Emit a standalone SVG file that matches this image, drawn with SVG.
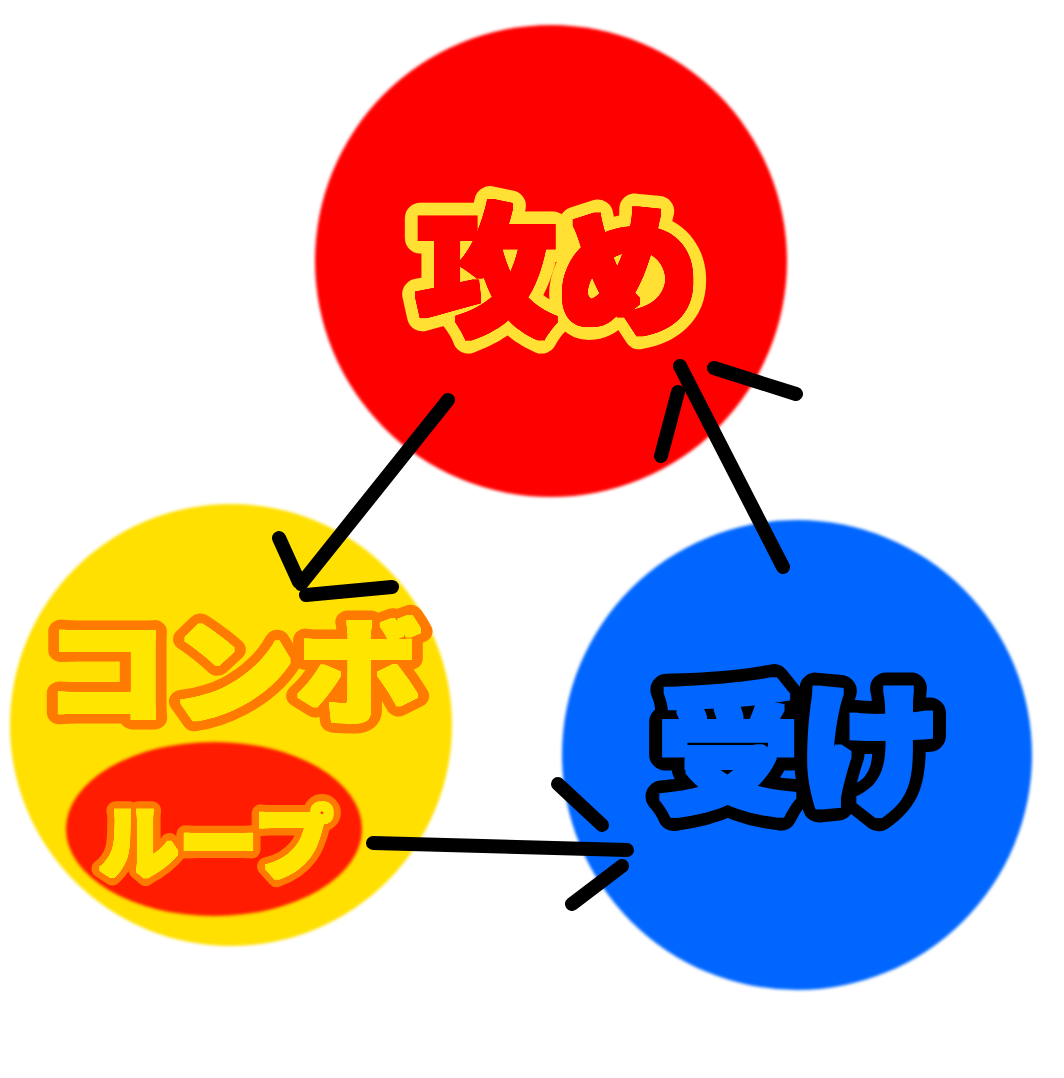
<svg xmlns="http://www.w3.org/2000/svg" width="1064" height="1078" viewBox="0 0 1064 1078">
<defs>
<filter id="soft" x="-5%" y="-5%" width="110%" height="110%"><feGaussianBlur stdDeviation="1.5"/></filter>
<filter id="fatRed" x="-10%" y="-20%" width="120%" height="140%" color-interpolation-filters="sRGB">
<feColorMatrix in="SourceGraphic" type="matrix" values="0 0 0 0 1  0 0 0 0 0  0 0 0 0 0  0 -2 0 1 0" result="m"/>
<feMorphology in="m" operator="dilate" radius="2.5" result="fat"/>
<feMerge><feMergeNode in="SourceGraphic"/><feMergeNode in="fat"/></feMerge>
</filter>
<filter id="fatBlue" x="-10%" y="-20%" width="120%" height="140%" color-interpolation-filters="sRGB">
<feColorMatrix in="SourceGraphic" type="matrix" values="0 0 0 0 0  0 0 0 0 0.4  0 0 0 0 1  0 0 1 0 0" result="m"/>
<feMorphology in="m" operator="dilate" radius="2.5" result="fat"/>
<feMerge><feMergeNode in="SourceGraphic"/><feMergeNode in="fat"/></feMerge>
</filter>
<filter id="fatYellow" x="-10%" y="-20%" width="120%" height="140%" color-interpolation-filters="sRGB">
<feColorMatrix in="SourceGraphic" type="matrix" values="0 0 0 0 1  0 0 0 0 0.9  0 0 0 0 0  0 5 0 0 -3.5" result="m"/>
<feMorphology in="m" operator="dilate" radius="2" result="fat"/>
<feMerge><feMergeNode in="SourceGraphic"/><feMergeNode in="fat"/></feMerge>
</filter>
<filter id="fatYellowS" x="-10%" y="-20%" width="120%" height="140%" color-interpolation-filters="sRGB">
<feColorMatrix in="SourceGraphic" type="matrix" values="0 0 0 0 1  0 0 0 0 0.9  0 0 0 0 0  0 5 0 0 -3.5" result="m"/>
<feMorphology in="m" operator="dilate" radius="1.5" result="fat"/>
<feMerge><feMergeNode in="SourceGraphic"/><feMergeNode in="fat"/></feMerge>
</filter>
</defs>
<style>
.lbl{font-family:"Noto Sans CJK JP","Noto Sans CJK SC",sans-serif;font-weight:900;text-anchor:middle;paint-order:stroke fill;stroke-linejoin:round;stroke-linecap:round}
.stroke{fill:none;stroke:#000;stroke-width:14;stroke-linecap:round}
</style>
<rect width="1064" height="1078" fill="#fff"/>
<g id="attack">
<circle cx="551" cy="261" r="236" fill="#ff0000" filter="url(#soft)"/>
<text class="lbl" x="557" y="324" font-size="142" fill="#ff0000" stroke="#ffe033" stroke-width="31" filter="url(#fatRed)">攻め</text>
</g>
<g id="combo">
<circle cx="231" cy="725" r="221" fill="#ffe000" filter="url(#soft)"/>
<text class="lbl" transform="translate(232 714) scale(1.1 1)" x="0" y="0" font-size="115" fill="#ffe600" stroke="#ff7a00" stroke-width="23" filter="url(#fatYellow)">コンボ</text>
<ellipse cx="214" cy="829" rx="148" ry="87" fill="#ff1e00" filter="url(#soft)"/>
<text class="lbl" x="216" y="872" font-size="80" fill="#ffe600" stroke="#ff7a00" stroke-width="18" filter="url(#fatYellowS)">ループ</text>
</g>
<g id="defense">
<circle cx="797" cy="755" r="235" fill="#0066ff" filter="url(#soft)"/>
<text class="lbl" x="799" y="803" font-size="142" fill="#0066ff" stroke="#000" stroke-width="32" filter="url(#fatBlue)">受け</text>
</g>
<g id="connectors">
<path class="stroke" d="M448 400 L301 584 M279 538 L299 582 M306 595 L392 587"/>
<path class="stroke" d="M680 366 L783 567 M678 392 L661 456 M714 368 L796 394"/>
<path class="stroke" d="M373 843 L627 850 M558 784 L602 825 M622 866 L572 904"/>
</g>
</svg>
